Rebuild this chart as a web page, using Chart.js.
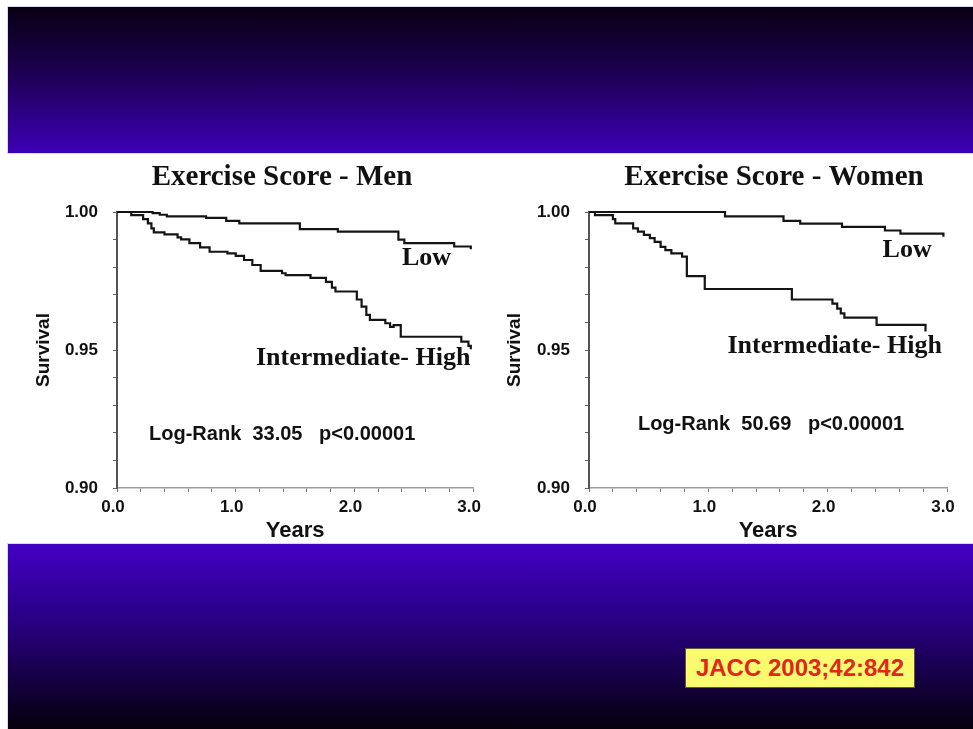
<!DOCTYPE html>
<html>
<head>
<meta charset="utf-8">
<title>Exercise Score survival</title>
<script src="https://cdn.jsdelivr.net/npm/chart.js@4.4.1/dist/chart.umd.min.js"></script>
<style>
  html, body { margin: 0; padding: 0; background: #fff; }
  #page { position: relative; width: 973px; height: 729px; overflow: hidden; background: #fff; }
  .band { position: absolute; left: 8px; width: 965px; box-shadow: 0 0 0 1px #d9d5ea; }
  #bandTop { top: 7px; height: 146px; background: linear-gradient(to bottom, #080014 0%, #1d0052 45%, #3d00b6 100%); }
  #bandBottom { top: 544px; height: 185px; background: linear-gradient(to bottom, #4300c4 0%, #26007c 45%, #04000c 100%); }
  canvas { position: absolute; top: 153px; }
  #chartMen { left: 0; }
  #chartWomen { left: 490px; }
  #cite {
    position: absolute; left: 685px; top: 648px; width: 228px; height: 38px;
    background: #fbfb70; border: 1px solid #5d5d3a;
    color: #e2261c; font: bold 24px 'Liberation Sans', Arial, sans-serif;
    line-height: 38px; text-align: center;
  }
</style>
</head>
<body>
<div id="page">
  <div class="band" id="bandTop"></div>
  <canvas id="chartMen" width="490" height="391"></canvas>
  <canvas id="chartWomen" width="483" height="391"></canvas>
  <div class="band" id="bandBottom"></div>
  <div id="cite">JACC 2003;42:842</div>
</div>
<script>
// Kaplan-Meier survival by exercise score: event times (years) and survival after each step
const menLowYears       = [0, 0.30, 0.36, 0.42, 0.75, 0.92, 1.03, 1.54, 1.86, 2.37, 2.42, 2.84, 2.98];
const menLowSurvival    = [1.0, 0.9996, 0.9990, 0.9984, 0.9979, 0.9968, 0.9959, 0.9938, 0.9929, 0.9900, 0.9887, 0.9875, 0.9865];

const menHighYears      = [0, 0.12, 0.22, 0.26, 0.29, 0.31, 0.40, 0.51, 0.54, 0.61, 0.70, 0.78, 0.93, 1.00, 1.07, 1.14, 1.21, 1.39, 1.42, 1.63, 1.76, 1.81, 1.84, 2.02, 2.06, 2.10, 2.13, 2.26, 2.30, 2.33, 2.39, 2.90, 2.96, 2.98];
const menHighSurvival   = [1.0, 0.9989, 0.9974, 0.9959, 0.9941, 0.9926, 0.9919, 0.9908, 0.9901, 0.9887, 0.9872, 0.9856, 0.9850, 0.9841, 0.9826, 0.9808, 0.9787, 0.9778, 0.9771, 0.9761, 0.9747, 0.9726, 0.9712, 0.9683, 0.9657, 0.9627, 0.9609, 0.9597, 0.9584, 0.9590, 0.9548, 0.9530, 0.9515, 0.9503];

const womenLowYears     = [0, 1.14, 1.63, 1.77, 2.12, 2.48, 2.61, 2.97];
const womenLowSurvival  = [1.0, 0.9984, 0.9968, 0.9958, 0.9946, 0.9933, 0.9922, 0.9910];

const womenHighYears    = [0, 0.05, 0.20, 0.22, 0.37, 0.41, 0.46, 0.51, 0.55, 0.60, 0.64, 0.69, 0.78, 0.82, 0.97, 1.70, 2.04, 2.08, 2.11, 2.14, 2.41, 2.82];
const womenHighSurvival = [1.0, 0.9989, 0.9974, 0.9959, 0.9941, 0.9929, 0.9917, 0.9905, 0.9892, 0.9874, 0.9862, 0.9850, 0.9838, 0.9768, 0.9721, 0.9683, 0.9668, 0.9650, 0.9633, 0.9617, 0.9591, 0.9567];

const groupNames    = ['Low', 'Intermediate- High'];
const panelTitles   = ['Exercise Score - Men', 'Exercise Score - Women'];
const logRankValues = ['33.05', '50.69'];
const pValueText    = 'p<0.00001';
const xTickLabels   = ['0.0', '1.0', '2.0', '3.0'];
const yTickLabels   = ['0.90', '0.95', '1.00'];
const xAxisTitle    = 'Years';
const yAxisTitle    = 'Survival';

Chart.defaults.font.family = "'Liberation Sans', Arial, sans-serif";
Chart.defaults.color = '#111';

function toPoints(years, surv) {
  return years.map((t, i) => ({ x: t, y: surv[i] }));
}

// Draws the panel heading and the in-plot annotations (anchored in data units)
const panelText = {
  id: 'panelText',
  afterDraw(chart, args, opts) {
    const { ctx } = chart;
    const xs = chart.scales.x, ys = chart.scales.y;
    ctx.save();
    ctx.fillStyle = '#111';
    ctx.font = "bold 29px 'Liberation Serif', 'Times New Roman', serif";
    ctx.textAlign = 'center';
    ctx.textBaseline = 'middle';
    ctx.fillText(opts.title, opts.titleX, opts.titleY);
    ctx.textAlign = 'left';
    ctx.textBaseline = 'alphabetic';
    for (const n of opts.notes) {
      ctx.font = n.font;
      ctx.fillText(n.text, xs.getPixelForValue(n.x), ys.getPixelForValue(n.y));
    }
    ctx.restore();
  }
};

const serifNote = "bold 26px 'Liberation Serif', 'Times New Roman', serif";
const sansNote  = "bold 20px 'Liberation Sans', Arial, sans-serif";

function buildPanel(id, title, titleX, lowPts, highPts, rankIdx, axisWidth, padRight, yTitlePad, notePos) {
  new Chart(document.getElementById(id), {
    type: 'line',
    data: {
      datasets: [
        { label: groupNames[0], data: lowPts },
        { label: groupNames[1], data: highPts }
      ].map(d => Object.assign(d, {
        stepped: true, borderColor: '#141414', borderWidth: 2.2,
        pointRadius: 0, fill: false, clip: false, tension: 0
      }))
    },
    options: {
      responsive: false,
      animation: false,
      events: [],
      layout: { padding: { top: 59, right: padRight, bottom: 0, left: 0 } },
      plugins: {
        legend: { display: false },
        tooltip: { enabled: false },
        title: { display: false },
        panelText: {
          title: title, titleX: titleX, titleY: 25,
          notes: [
            { text: groupNames[0], x: notePos.low[0], y: notePos.low[1], font: serifNote },
            { text: groupNames[1], x: notePos.high[0], y: notePos.high[1], font: serifNote },
            { text: 'Log-Rank  ' + logRankValues[rankIdx] + '   ' + pValueText, x: notePos.rank[0], y: notePos.rank[1], font: sansNote }
          ]
        }
      },
      scales: {
        x: {
          type: 'linear', min: 0, max: 3,
          afterFit: s => { s.height = 56; },
          border: { display: true, color: '#9c9c9c', width: 1.5 },
          grid: { drawOnChartArea: false, drawTicks: true, tickLength: 4, color: '#777' },
          ticks: {
            stepSize: 0.2, autoSkip: false, maxRotation: 0, padding: 5, labelOffset: -4,
            color: '#111', font: { size: 17, weight: 'bold' },
            callback: v => { const s = Number(v).toFixed(1); return xTickLabels.includes(s) ? s : ''; }
          },
          title: { display: true, text: xAxisTitle, color: '#111', font: { size: 22, weight: 'bold' }, padding: { top: 0, bottom: 0 } }
        },
        y: {
          type: 'linear', min: 0.9, max: 1.0,
          afterFit: s => { s.width = axisWidth; },
          border: { display: true, color: '#555', width: 2 },
          grid: { drawOnChartArea: false, drawTicks: true, tickLength: 4, color: '#666' },
          ticks: {
            stepSize: 0.01, autoSkip: false, padding: 15,
            color: '#111', font: { size: 17, weight: 'bold' },
            callback: v => { const s = Number(v).toFixed(2); return yTickLabels.includes(s) ? s : ''; }
          },
          title: { display: true, text: yAxisTitle, color: '#111', font: { size: 19, weight: 'bold' }, padding: { top: yTitlePad, bottom: 0 } }
        }
      }
    },
    plugins: [panelText]
  });
}

buildPanel('chartMen', panelTitles[0], 282,
  toPoints(menLowYears, menLowSurvival), toPoints(menHighYears, menHighSurvival),
  0, 117, 15, 32,
  { low: [2.40, 0.9808], high: [1.17, 0.9446], rank: [0.27, 0.9174] });

buildPanel('chartWomen', panelTitles[1], 284,
  toPoints(womenLowYears, womenLowSurvival), toPoints(womenHighYears, womenHighSurvival),
  1, 99, 26, 13,
  { low: [2.46, 0.9837], high: [1.16, 0.9489], rank: [0.41, 0.9210] });
</script>
</body>
</html>
